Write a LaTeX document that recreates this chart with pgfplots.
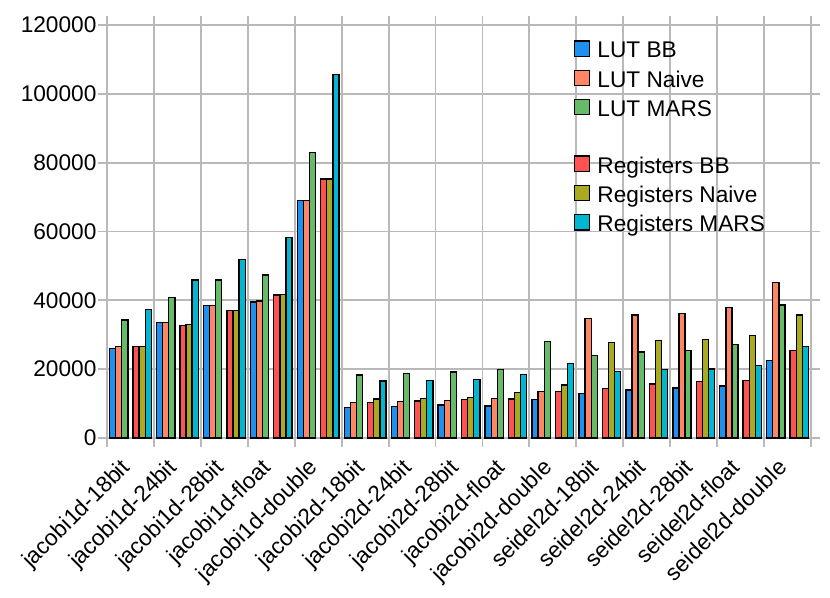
\documentclass[border=0pt]{standalone}
\usepackage{pgfplots}
\pgfplotsset{compat=1.18}
\usepackage{pgfplotstable}
\usepackage{fontspec}
\setmainfont{Liberation Sans}
\definecolor{cLB}{RGB}{30,144,240}
\definecolor{cLN}{RGB}{255,133,100}
\definecolor{cLM}{RGB}{102,187,102}
\definecolor{cRB}{RGB}{255,82,82}
\definecolor{cRN}{RGB}{170,170,34}
\definecolor{cRM}{RGB}{0,183,210}
\definecolor{gridc}{RGB}{185,185,185}
\pgfplotstableread{
x lbb lnaive lmars rbb rnaive rmars
0 26070 26550 34290 26550 26550 37400
1 33620 33620 40890 32740 32930 45900
2 38450 38450 45900 37000 37090 51930
3 39520 39810 47370 41550 41750 58320
4 68960 68960 83020 75270 75270 105690
5 8810 10360 18310 10360 11330 16560
6 9100 10560 18700 10750 11530 16760
7 9590 10950 19180 11140 11820 16950
8 9300 11430 19860 11330 13270 18500
9 11140 13560 28090 13460 15400 21600
10 12980 34780 24030 14440 27810 19380
11 13950 35740 24990 15690 28280 19860
12 14530 36130 25370 16370 28670 20050
13 15110 37870 27230 16760 29830 21120
14 22570 45240 38650 25370 35740 26640
}\data
\begin{document}
\begin{tikzpicture}
\useasboundingbox (-80.25pt,-119.25pt) rectangle (542.25pt,328.5pt);
\begin{axis}[
  at={(0,0)}, anchor=south west,
  scale only axis, width=528pt, height=309.75pt,
  ybar,
  xmin=-0.5, xmax=14.5,
  ymin=0, ymax=120000,
  xtick={0,...,14},
  xticklabels={jacobi1d-18bit,jacobi1d-24bit,jacobi1d-28bit,jacobi1d-float,jacobi1d-double,jacobi2d-18bit,jacobi2d-24bit,jacobi2d-28bit,jacobi2d-float,jacobi2d-double,seidel2d-18bit,seidel2d-24bit,seidel2d-28bit,seidel2d-float,seidel2d-double},
  minor xtick={-0.5,0.5,...,14.5},
  ytick={0,20000,...,120000},
  xmajorgrids=false, xminorgrids=true, ymajorgrids=true,
  grid style={gridc, line width=1.4pt},
  minor grid style={gridc, line width=1.4pt},
  tick align=outside,
  major tick length=6.75pt, minor tick length=6.75pt,
  major x tick style={draw=none},
  minor x tick style={gridc, line width=1.4pt},
  major y tick style={gridc, line width=1.4pt},
  axis line style={draw=none},
  scaled y ticks=false,
  yticklabel style={/pgf/number format/fixed, /pgf/number format/1000 sep={}, inner sep=1pt, font=\fontsize{17}{20}\selectfont},
  /pgf/number format/assume math mode=true,
  tick label style={black},
  xticklabel style={font=\fontsize{17}{20}\selectfont, rotate=45, anchor=north east, inner sep=0pt, xshift=-11.2pt, yshift=0.6pt},
  bar width=4.58pt,
  legend style={at={(0.6575,0.970)}, anchor=north west, draw=none, fill=none,
    font=\fontsize{17}{20}\selectfont, row sep=5.15pt,
    nodes={inner sep=0pt, text height=12pt, text depth=3.5pt},
    /tikz/every odd column/.append style={column sep=5.25pt}},
  legend cell align=left,
  legend image code/.code={\draw[#1, draw=black, line width=1pt] (0pt,-3pt) rectangle (11.25pt,8.5pt);},
  every axis plot/.append style={draw=black, line width=1pt},
]
\addplot[fill=cLB, bar shift=-13.34pt] table[x=x,y=lbb]{\data};
\addlegendentry{LUT BB}
\addplot[fill=cLN, bar shift=-8.76pt] table[x=x,y=lnaive]{\data};
\addlegendentry{LUT Naive}
\addplot[fill=cLM, bar shift=-4.19pt] table[x=x,y=lmars]{\data};
\addlegendentry{LUT MARS}
\addlegendimage{empty legend}
\addlegendentry{}
\addplot[fill=cRB, bar shift=4.19pt] table[x=x,y=rbb]{\data};
\addlegendentry{Registers BB}
\addplot[fill=cRN, bar shift=8.76pt] table[x=x,y=rnaive]{\data};
\addlegendentry{Registers Naive}
\addplot[fill=cRM, bar shift=13.34pt] table[x=x,y=rmars]{\data};
\addlegendentry{Registers MARS}
\end{axis}
\end{tikzpicture}
\end{document}
